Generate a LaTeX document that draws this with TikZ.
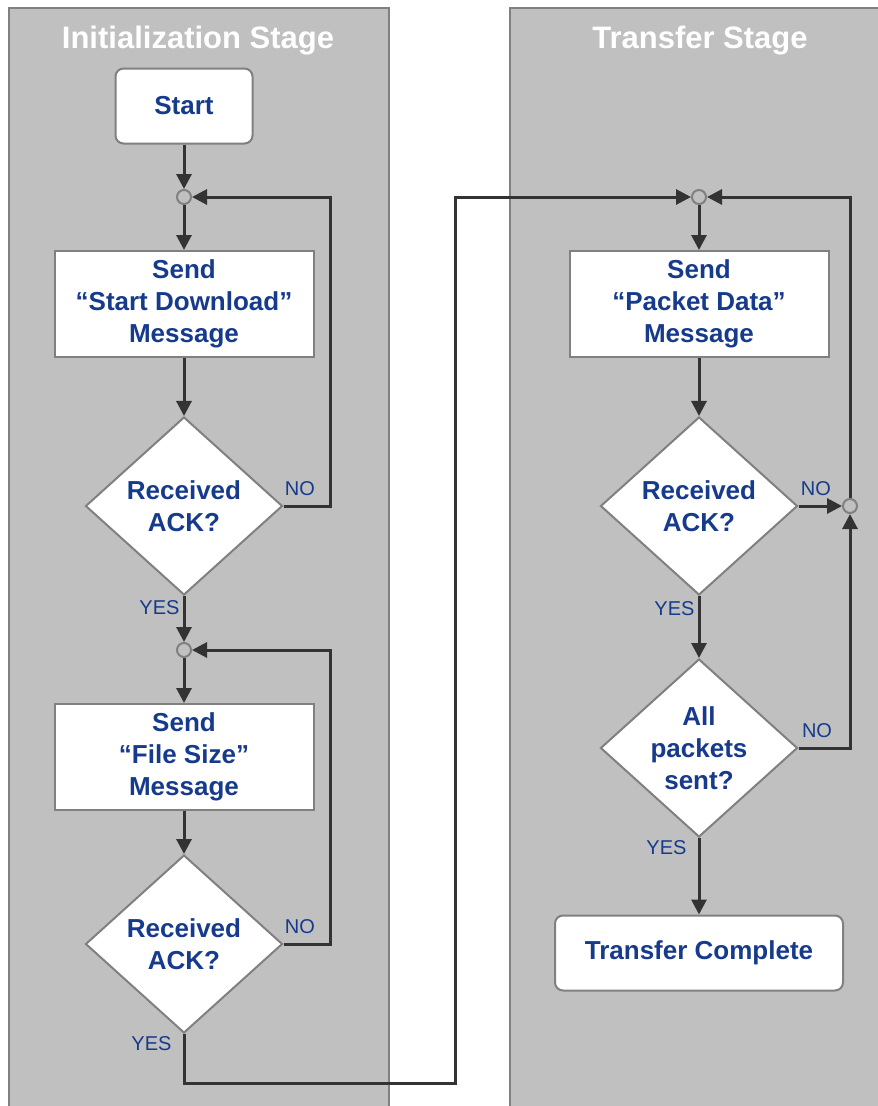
\documentclass[tikz,border=0pt]{standalone}
\usepackage{fontspec}
\setmainfont{Liberation Sans}
\usetikzlibrary{arrows.meta,shapes.geometric}
\definecolor{panelgray}{RGB}{192,192,192}
\definecolor{edgegray}{RGB}{128,128,128}
\definecolor{flowblue}{RGB}{22,58,140}
\definecolor{linegray}{RGB}{51,51,51}

\begin{document}
\begin{tikzpicture}[x=1pt,y=-1pt,->,>={Triangle[length=15pt,width=15pt]},
                    font=\bfseries\fontsize{26}{32}\selectfont]
  \tikzstyle{panel}=[-,fill=panelgray,draw=edgegray,line width=2pt]
  \tikzstyle{stage}=[text=white,font=\bfseries\fontsize{31}{36}\selectfont]
  \tikzstyle{box}=[rectangle,draw=edgegray,fill=white,line width=2pt,text=flowblue,
                   align=center,minimum width=259pt,minimum height=106pt]
  \tikzstyle{term}=[box,rounded corners=8pt,minimum height=75pt]
  \tikzstyle{ask}=[diamond,draw=edgegray,fill=white,line width=2pt,text=flowblue,
                   align=center,inner sep=0pt,aspect=1.1,minimum width=197pt,minimum height=178pt]
  \tikzstyle{junction}=[circle,draw=edgegray,fill=panelgray,line width=2pt,inner sep=0pt,minimum size=14pt]
  \tikzstyle{flow}=[draw=linegray,line width=3pt]
  \tikzstyle{answer}=[text=flowblue,font=\mdseries\fontsize{20}{24}\selectfont,inner sep=3pt]

  \useasboundingbox (0,0) rectangle (878,1106);

  % stage panels
  \draw[panel] (9,8) rectangle (389,1120);
  \draw[panel] (510,8) rectangle (890,1120);
  \node[stage] (IS) at (198,41) {Initialization Stage};
  \node[stage] (TS) at (700,41) {Transfer Stage};

  % initialization
  \node[term,minimum width=137pt] (ST) at (184,106) {Start};
  \node[junction] (J1) at (184,197) {};
  \node[box] (SD) at (184,304) {Send\\“Start Download”\\Message};
  \node[ask] (A1) at (184,506) {Received\\ACK?};
  \node[junction] (J2) at (184,650) {};
  \node[box] (FS) at (184,757) {Send\\“File Size”\\Message};
  \node[ask] (A2) at (184,944) {Received\\ACK?};
  \coordinate (LB) at (455,1083);

  % transfer
  \node[junction] (J3) at (699,197) {};
  \node[box] (PD) at (699,304) {Send\\“Packet Data”\\Message};
  \node[ask] (A3) at (699,506) {Received\\ACK?};
  \node[junction] (J4) at (850,506) {};
  \node[ask] (AP) at (699,748) {All\\packets\\sent?};
  \node[term,minimum width=288pt] (TC) at (699,953) {Transfer Complete};

  \draw[flow] (ST) -- (J1);
  \draw[flow] (J1) -- (SD);
  \draw[flow] (SD) -- (A1);
  \draw[flow] (A1.east) -- node[answer,above=6pt,pos=0.35] {NO} ++(47,0) |- (J1);
  \draw[flow] (A1.south) -- node[answer,left,pos=0.25] {YES} (J2);
  \draw[flow] (J2) -- (FS);
  \draw[flow] (FS) -- (A2);
  \draw[flow] (A2.east) -- node[answer,above=6pt,pos=0.35] {NO} ++(47,0) |- (J2);
  \draw[flow] (A2.south) -- node[answer,left=8pt,pos=0.2] {YES} (A2.south |- LB) -- (LB) |- (J3);
  \draw[flow] (J3) -- (PD);
  \draw[flow] (PD) -- (A3);
  \draw[flow] (A3.east) -- node[answer,above=6pt,pos=0.4] {NO} (J4);
  \draw[flow] (A3.south) -- node[answer,left,pos=0.2] {YES} (AP);
  \draw[flow] (AP.east) -| node[answer,above=6pt,pos=0.18] {NO} (J4);
  \draw[flow] (J4) |- (J3);
  \draw[flow] (AP.south) -- node[answer,left=8pt,pos=0.12] {YES} (TC);
\end{tikzpicture}
\end{document}
